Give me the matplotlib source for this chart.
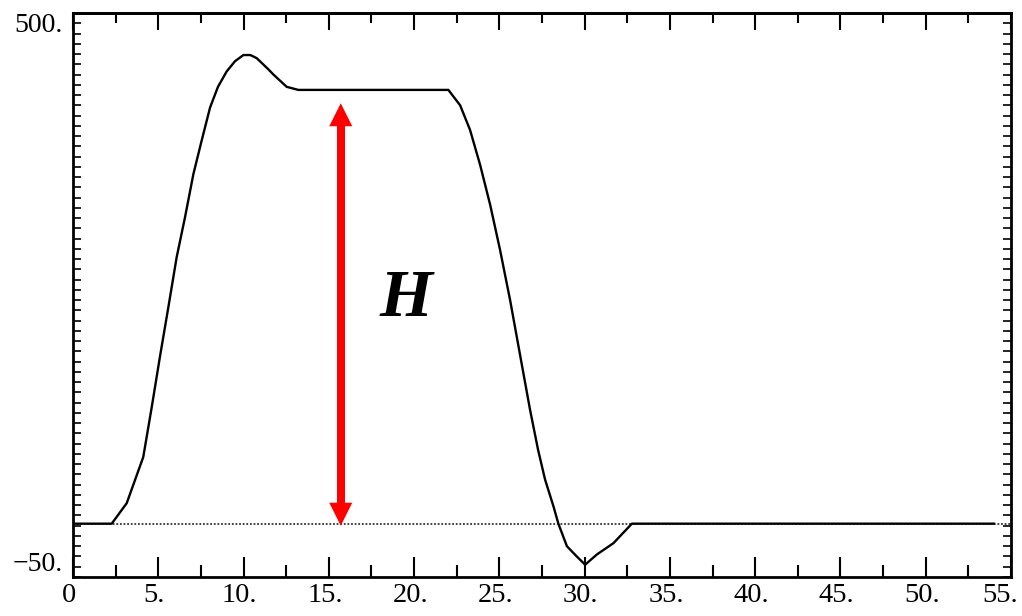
import numpy as np
import matplotlib
matplotlib.use("Agg")
import matplotlib.pyplot as plt
import matplotlib.transforms as mtransforms
from matplotlib.patches import FancyArrowPatch, ArrowStyle

# ---- data ----
curve_x = [0, 2.27, 3.15, 4.12, 4.62, 5.10, 5.59, 6.08, 6.57, 7.06, 7.55, 8.04, 8.5,
           9.01, 9.5, 9.99, 10.4, 10.77, 11.46, 11.75, 12.53, 13.21, 22.01, 22.7,
           23.28, 23.87, 24.46, 25.04, 25.63, 26.22, 26.8, 27.27, 27.68, 28.17,
           28.46, 28.96, 29.54, 30.03, 30.72, 31.69, 32.77, 54.0]
curve_y = [2, 2, 22, 67, 116, 165, 213, 262, 301, 343, 376, 408, 428,
           443, 453, 459, 459, 456, 445, 440, 428, 425, 425, 410,
           386, 352, 313, 269, 220, 166, 113, 74, 45, 19,
           2, -20, -30, -38, -28, -17, 2, 2]
baseline_y = 2
x_ticks = [0, 5, 10, 15, 20, 25, 30, 35, 40, 45, 50, 55]
x_tick_labels = ["0", "5.", "10.", "15.", "20.", "25.", "30.", "35.", "40.", "45.", "50.", "55."]
x_minor = [2.5, 7.5, 12.5, 17.5, 22.5, 27.5, 32.5, 37.5, 42.5, 47.5, 52.5]
y_minor = list(range(-50, 501, 10))
y_labels = {500: "500.", -50: "\u221250."}
arrow_x = 15.7
arrow_bottom = 0
arrow_top = 412
h_label = "H"
h_pos = (19.5, 205)

FONT = "Liberation Serif"

fig = plt.figure(figsize=(10.22, 6.16), dpi=100)
ax = fig.add_axes([73 / 1022, 39 / 616, 938 / 1022, 564 / 616])
ax.set_xlim(0, 55)
ax.set_ylim(-50, 500)

for s in ax.spines.values():
    s.set_linewidth(2.0)
    s.set_color("black")

# dotted reference line and curve
ax.plot([0, 55], [baseline_y, baseline_y], color="#333333", lw=1.3,
        linestyle=(0, (1, 1)), zorder=2)
ax.plot(curve_x, curve_y, color="black", lw=1.7, zorder=3)

# x ticks
ax.set_xticks(x_ticks)
ax.set_xticklabels(x_tick_labels, fontfamily=FONT, fontsize=20.5)
ax.set_xticks(x_minor, minor=True)
ax.tick_params(axis="x", which="major", direction="in", length=14.4, width=1.5,
               top=False, pad=4.5)
ax.tick_params(axis="x", which="minor", direction="in", length=8.6, width=1.5,
               top=False)
labels = ax.get_xticklabels()
for i, lab in enumerate(labels):
    dx = -0.04 if i < len(labels) - 1 else -0.11
    lab.set_transform(lab.get_transform()
                      + mtransforms.ScaledTranslation(dx, 0, fig.dpi_scale_trans))

sec = ax.secondary_xaxis("top")
sec.set_xticks(x_ticks)
sec.set_xticks(x_minor, minor=True)
sec.tick_params(axis="x", which="major", direction="in", length=12, width=1.5,
                labeltop=False)
sec.tick_params(axis="x", which="minor", direction="in", length=7, width=1.5)
sec.spines["top"].set_linewidth(2.0)

# y ticks
ax.set_yticks([])
ax.set_yticks(y_minor, minor=True)
ax.tick_params(axis="y", which="minor", direction="in", length=5.5, width=1.2,
               left=True, right=True)

trans = mtransforms.blended_transform_factory(ax.transAxes, ax.transData)
for val, txt in y_labels.items():
    ax.text(-0.011, val, txt, transform=trans, ha="right",
            va="top" if val > 0 else "bottom", fontfamily=FONT, fontsize=20)

# red double arrow
head_len_pt = 23 * 0.72
head_w_pt = 11.5 * 0.72
arr = FancyArrowPatch((arrow_x, arrow_bottom), (arrow_x, arrow_top),
                      arrowstyle=ArrowStyle("<|-|>", head_length=head_len_pt,
                                            head_width=head_w_pt),
                      mutation_scale=1, lw=0, color="red", shrinkA=0, shrinkB=0,
                      zorder=5)
ax.add_patch(arr)
ax.plot([arrow_x, arrow_x], [arrow_bottom + 20, arrow_top - 20], color="red",
        lw=8 * 0.72, solid_capstyle="butt", zorder=5)

ax.text(h_pos[0], h_pos[1], h_label, fontfamily=FONT, fontsize=49,
        fontweight="bold", fontstyle="italic", ha="center", va="baseline",
        zorder=6)

fig.savefig("out.png", dpi=100)
